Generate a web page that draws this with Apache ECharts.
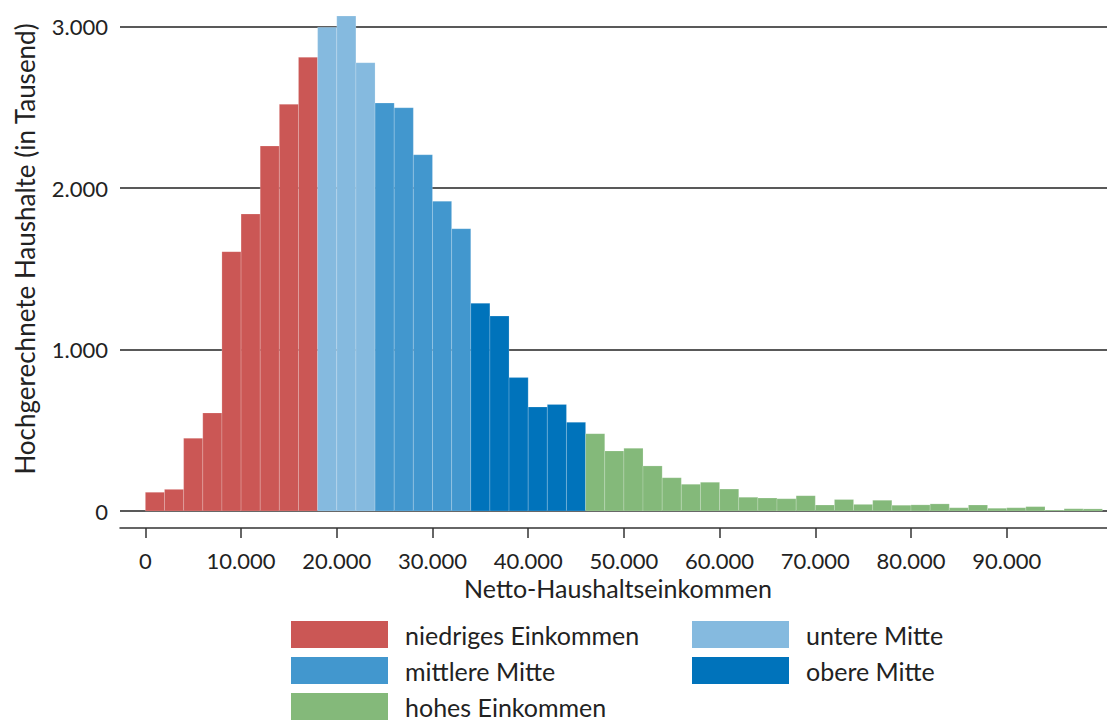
<!DOCTYPE html>
<html><head><meta charset="utf-8">
<script src="https://cdn.jsdelivr.net/npm/echarts@6/dist/echarts.min.js"></script>
<style>html,body{margin:0;padding:0;background:#fff}#c{width:1107px;height:722px}</style>
</head><body><div id="c"></div>
<script>
// Lower edge of each income bin (EUR), bin width 2.000
const binStart = [0,2000,4000,6000,8000,10000,12000,14000,16000,18000,
  20000,22000,24000,26000,28000,30000,32000,34000,36000,38000,
  40000,42000,44000,46000,48000,50000,52000,54000,56000,58000,
  60000,62000,64000,66000,68000,70000,72000,74000,76000,78000,
  80000,82000,84000,86000,88000,90000,92000,94000,96000,98000];
const binWidth = 2000;
// Hochgerechnete Haushalte (in Tausend) per bin
const households = [116,134,450,607,1606,1839,2260,2518,2809,2995,
  3065,2776,2526,2497,2206,1918,1748,1286,1207,826,
  644,660,549,479,372,388,279,206,165,178,
  136,85,80,76,95,37,71,41,66,36,
  38,44,20,37,17,20,27,6,14,13];
const groupNames = ['niedriges Einkommen','untere Mitte','mittlere Mitte','obere Mitte','hohes Einkommen'];
const groupEdges = [0,18000,24000,34000,46000,100000];
const groupColors = ['#CB5755','#85BADF','#4297CE','#0073BB','#84B97A'];
const xTicks = [0,10000,20000,30000,40000,50000,60000,70000,80000,90000];
const yTicks = [0,1000,2000,3000];

const FONT = 'Lato';
const fmt = v => String(v).replace(/\B(?=(\d{3})+(?!\d))/g, '.');

const series = groupNames.map((name, g) => {
  const data = [];
  binStart.forEach((s, i) => {
    if (s >= groupEdges[g] && s < groupEdges[g+1]) data.push([s, s + binWidth, households[i]]);
  });
  return {
    type: 'custom', name: name, data: data,
    itemStyle: {color: groupColors[g]},
    encode: {x: [0,1], y: 2},
    renderItem: (params, api) => {
      const p0 = api.coord([api.value(0), api.value(2)]);
      const p1 = api.coord([api.value(1), 0]);
      return {type: 'rect',
        shape: {x: p0[0], y: p0[1], width: p1[0]-p0[0], height: p1[1]-p0[1]},
        style: {fill: groupColors[g], stroke: 'rgba(255,255,255,0.3)', lineWidth: 0.6}};
    }
  };
});

const legendBase = {orient: 'vertical', top: 621, height: 160, padding: 0, itemWidth: 97, itemHeight: 27, itemGap: 9,
  icon: 'rect', selectedMode: false,
  textStyle: {fontFamily: FONT, fontSize: 25, color: '#222', padding: [0,0,0,12]}};

const chart = echarts.init(document.getElementById('c'), null, {renderer: 'svg'});
chart.setOption({
  animation: false,
  backgroundColor: '#fff',
  grid: {left: 120, right: 0, top: 26.5, bottom: 211},
  xAxis: {type: 'value', min: -2650, max: 100480, offset: 17,
    splitLine: {show: false},
    axisLine: {show: true, onZero: false, lineStyle: {color: '#333', width: 1.5}},
    axisTick: {show: true, customValues: xTicks, length: 10, lineStyle: {color: '#333', width: 1.5}},
    axisLabel: {customValues: xTicks, formatter: fmt, margin: 21, fontFamily: FONT, fontSize: 22, color: '#222'},
    name: 'Netto-Haushaltseinkommen', nameLocation: 'middle', nameGap: 42,
    nameTextStyle: {fontFamily: FONT, fontSize: 25, color: '#222', padding: [0,0,0,9]}},
  yAxis: {type: 'value', min: 0, max: 3000, interval: 1000,
    axisLine: {show: false}, axisTick: {show: false},
    splitLine: {show: true, lineStyle: {color: '#222', width: 1.5}},
    axisLabel: {formatter: fmt, margin: 12, fontFamily: FONT, fontSize: 22, color: '#222'}},
  legend: [
    Object.assign({}, legendBase, {left: 291, data: [groupNames[0], groupNames[2], groupNames[4]]}),
    Object.assign({}, legendBase, {left: 692, data: [groupNames[1], groupNames[3]]})
  ],
  graphic: [{type: 'text', x: 25, y: 249, rotation: Math.PI/2,
    style: {text: 'Hochgerechnete Haushalte (in Tausend)', fontFamily: FONT, fontSize: 26, fill: '#222',
      textAlign: 'center', textVerticalAlign: 'middle'}}],
  series: series
});
</script></body></html>
